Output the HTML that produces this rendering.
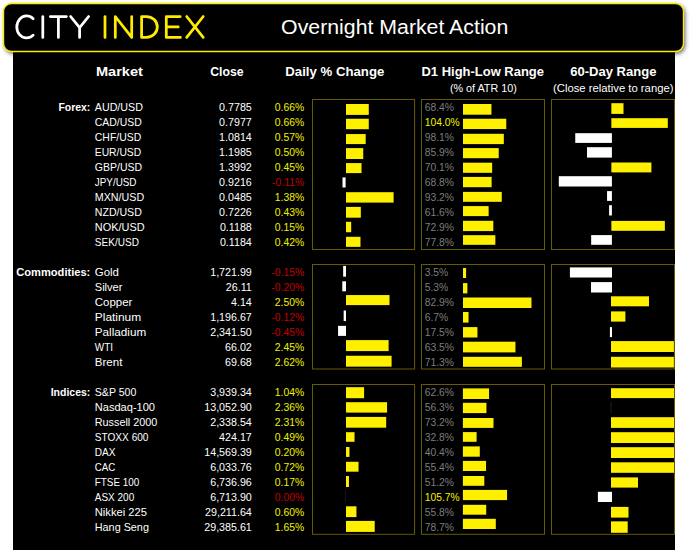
<!DOCTYPE html><html><head><meta charset="utf-8"><title>Overnight Market Action</title><style>
html,body{margin:0;padding:0;background:#fff;width:695px;height:559px;overflow:hidden;}
svg{position:absolute;left:0;top:0;display:block;}
text{font-family:"Liberation Sans",sans-serif;}
</style></head><body>
<svg width="695" height="559" viewBox="0 0 695 559">
<defs><filter id="blur" x="-5%" y="-30%" width="110%" height="170%"><feGaussianBlur stdDeviation="2.2"/></filter></defs>
<rect x="5" y="5.5" width="680" height="48" rx="8" ry="8" fill="#303040" fill-opacity="0.8" filter="url(#blur)"/>
<rect x="13" y="45" width="662" height="505" fill="#000"/>
<rect x="3.5" y="3.5" width="680" height="48" rx="8" ry="8" fill="#000" stroke="#ffeb00" stroke-width="1.4"/>
<g fill="none" stroke="#fff" stroke-width="2.75" stroke-linecap="round" stroke-linejoin="round">
<path d="M33.16 18.78 A9.8 11.0 0 1 0 33.16 35.12"/>
<path d="M42.8 16.5V37.4"/>
<path d="M50.3 16.5H66.4M58.4 16.5V37.4"/>
<path d="M70.6 16.5L79.6 27.6L88.6 16.5M79.6 27.6V37.4"/>
</g>
<g fill="none" stroke="#ffeb00" stroke-width="2.75" stroke-linecap="round" stroke-linejoin="round">
<path d="M105.0 16.5V37.4"/>
<path d="M115.3 37.4V16.5L131.7 37.4V16.5"/>
<path d="M141.6 16.5H146.5A10.8 10.45 0 0 1 146.5 37.4H141.6Z"/>
<path d="M180.2 16.5H166.3V37.4H180.4M166.3 26.95H178.2"/>
<path d="M186.7 16.5L203.2 37.4M203.2 16.5L186.7 37.4"/>
</g>
<text x="281.1" y="34.1" font-size="20.5" fill="#fff" textLength="227.2" lengthAdjust="spacingAndGlyphs">Overnight Market Action</text>
<text x="95.90" y="76.00" font-size="13.2" fill="#fff" font-weight="bold" textLength="47.0" lengthAdjust="spacingAndGlyphs">Market</text>
<text x="210.20" y="76.00" font-size="13.2" fill="#fff" font-weight="bold" textLength="33.3" lengthAdjust="spacingAndGlyphs">Close</text>
<text x="285.30" y="76.00" font-size="13.2" fill="#fff" font-weight="bold" textLength="99.0" lengthAdjust="spacingAndGlyphs">Daily % Change</text>
<text x="421.50" y="76.00" font-size="13.2" fill="#fff" font-weight="bold" textLength="122.5" lengthAdjust="spacingAndGlyphs">D1 High-Low Range</text>
<text x="570.20" y="76.00" font-size="13.2" fill="#fff" font-weight="bold" textLength="86.2" lengthAdjust="spacingAndGlyphs">60-Day Range</text>
<text x="449.90" y="91.80" font-size="10.7" fill="#fff" textLength="66.9" lengthAdjust="spacingAndGlyphs">(% of ATR 10)</text>
<text x="553.00" y="91.80" font-size="10.7" fill="#fff" textLength="120.5" lengthAdjust="spacingAndGlyphs">(Close relative to range)</text>
<text x="90.30" y="111.00" font-size="10.7" fill="#fff" text-anchor="end" font-weight="bold" textLength="31.9" lengthAdjust="spacingAndGlyphs">Forex:</text>
<text x="94.80" y="111.00" font-size="10.7" fill="#fff" textLength="48.1" lengthAdjust="spacingAndGlyphs">AUD/USD</text>
<text x="251.80" y="111.00" font-size="10.7" fill="#fff" text-anchor="end">0.7785</text>
<text x="304.20" y="111.00" font-size="10.7" fill="#f0f000" text-anchor="end" textLength="29.4" lengthAdjust="spacingAndGlyphs">0.66%</text>
<text x="424.70" y="111.00" font-size="10.7" fill="#7d7d7d" textLength="29.25" lengthAdjust="spacingAndGlyphs">68.4%</text>
<text x="94.80" y="125.99" font-size="10.7" fill="#fff" textLength="47" lengthAdjust="spacingAndGlyphs">CAD/USD</text>
<text x="251.80" y="125.99" font-size="10.7" fill="#fff" text-anchor="end">0.7977</text>
<text x="304.20" y="125.99" font-size="10.7" fill="#f0f000" text-anchor="end" textLength="29.4" lengthAdjust="spacingAndGlyphs">0.66%</text>
<text x="424.70" y="125.99" font-size="10.7" fill="#f0f000" textLength="34.98" lengthAdjust="spacingAndGlyphs">104.0%</text>
<text x="94.80" y="140.97" font-size="10.7" fill="#fff" textLength="46.4" lengthAdjust="spacingAndGlyphs">CHF/USD</text>
<text x="251.80" y="140.97" font-size="10.7" fill="#fff" text-anchor="end">1.0814</text>
<text x="304.20" y="140.97" font-size="10.7" fill="#f0f000" text-anchor="end" textLength="29.4" lengthAdjust="spacingAndGlyphs">0.57%</text>
<text x="424.70" y="140.97" font-size="10.7" fill="#7d7d7d" textLength="29.25" lengthAdjust="spacingAndGlyphs">98.1%</text>
<text x="94.80" y="155.96" font-size="10.7" fill="#fff" textLength="46.4" lengthAdjust="spacingAndGlyphs">EUR/USD</text>
<text x="251.80" y="155.96" font-size="10.7" fill="#fff" text-anchor="end">1.1985</text>
<text x="304.20" y="155.96" font-size="10.7" fill="#f0f000" text-anchor="end" textLength="29.4" lengthAdjust="spacingAndGlyphs">0.50%</text>
<text x="424.70" y="155.96" font-size="10.7" fill="#7d7d7d" textLength="29.25" lengthAdjust="spacingAndGlyphs">85.9%</text>
<text x="94.80" y="170.94" font-size="10.7" fill="#fff" textLength="47.3" lengthAdjust="spacingAndGlyphs">GBP/USD</text>
<text x="251.80" y="170.94" font-size="10.7" fill="#fff" text-anchor="end">1.3992</text>
<text x="304.20" y="170.94" font-size="10.7" fill="#f0f000" text-anchor="end" textLength="29.4" lengthAdjust="spacingAndGlyphs">0.45%</text>
<text x="424.70" y="170.94" font-size="10.7" fill="#7d7d7d" textLength="29.25" lengthAdjust="spacingAndGlyphs">70.1%</text>
<text x="94.80" y="185.93" font-size="10.7" fill="#fff" textLength="41.7" lengthAdjust="spacingAndGlyphs">JPY/USD</text>
<text x="251.80" y="185.93" font-size="10.7" fill="#fff" text-anchor="end">0.9216</text>
<text x="304.20" y="185.93" font-size="10.7" fill="#c00000" text-anchor="end" textLength="32.09" lengthAdjust="spacingAndGlyphs">-0.11%</text>
<text x="424.70" y="185.93" font-size="10.7" fill="#7d7d7d" textLength="29.25" lengthAdjust="spacingAndGlyphs">68.8%</text>
<text x="94.80" y="200.92" font-size="10.7" fill="#fff" textLength="49.4" lengthAdjust="spacingAndGlyphs">MXN/USD</text>
<text x="251.80" y="200.92" font-size="10.7" fill="#fff" text-anchor="end">0.0485</text>
<text x="304.20" y="200.92" font-size="10.7" fill="#f0f000" text-anchor="end" textLength="29.4" lengthAdjust="spacingAndGlyphs">1.38%</text>
<text x="424.70" y="200.92" font-size="10.7" fill="#7d7d7d" textLength="29.25" lengthAdjust="spacingAndGlyphs">93.2%</text>
<text x="94.80" y="215.90" font-size="10.7" fill="#fff" textLength="47" lengthAdjust="spacingAndGlyphs">NZD/USD</text>
<text x="251.80" y="215.90" font-size="10.7" fill="#fff" text-anchor="end">0.7226</text>
<text x="304.20" y="215.90" font-size="10.7" fill="#f0f000" text-anchor="end" textLength="29.4" lengthAdjust="spacingAndGlyphs">0.43%</text>
<text x="424.70" y="215.90" font-size="10.7" fill="#7d7d7d" textLength="29.25" lengthAdjust="spacingAndGlyphs">61.6%</text>
<text x="94.80" y="230.89" font-size="10.7" fill="#fff" textLength="49.8" lengthAdjust="spacingAndGlyphs">NOK/USD</text>
<text x="251.80" y="230.89" font-size="10.7" fill="#fff" text-anchor="end">0.1188</text>
<text x="304.20" y="230.89" font-size="10.7" fill="#f0f000" text-anchor="end" textLength="29.4" lengthAdjust="spacingAndGlyphs">0.15%</text>
<text x="424.70" y="230.89" font-size="10.7" fill="#7d7d7d" textLength="29.25" lengthAdjust="spacingAndGlyphs">72.9%</text>
<text x="94.80" y="245.87" font-size="10.7" fill="#fff" textLength="44.1" lengthAdjust="spacingAndGlyphs">SEK/USD</text>
<text x="251.80" y="245.87" font-size="10.7" fill="#fff" text-anchor="end">0.1184</text>
<text x="304.20" y="245.87" font-size="10.7" fill="#f0f000" text-anchor="end" textLength="29.4" lengthAdjust="spacingAndGlyphs">0.42%</text>
<text x="424.70" y="245.87" font-size="10.7" fill="#7d7d7d" textLength="29.25" lengthAdjust="spacingAndGlyphs">77.8%</text>
<text x="90.30" y="275.85" font-size="10.7" fill="#fff" text-anchor="end" font-weight="bold" textLength="74.0" lengthAdjust="spacingAndGlyphs">Commodities:</text>
<text x="94.80" y="275.85" font-size="10.7" fill="#fff" textLength="24.2" lengthAdjust="spacingAndGlyphs">Gold</text>
<text x="251.80" y="275.85" font-size="10.7" fill="#fff" text-anchor="end">1,721.99</text>
<text x="304.20" y="275.85" font-size="10.7" fill="#c00000" text-anchor="end" textLength="32.86" lengthAdjust="spacingAndGlyphs">-0.15%</text>
<text x="424.70" y="275.85" font-size="10.7" fill="#7d7d7d" textLength="23.52" lengthAdjust="spacingAndGlyphs">3.5%</text>
<text x="94.80" y="290.83" font-size="10.7" fill="#fff" textLength="27.6" lengthAdjust="spacingAndGlyphs">Silver</text>
<text x="251.80" y="290.83" font-size="10.7" fill="#fff" text-anchor="end">26.11</text>
<text x="304.20" y="290.83" font-size="10.7" fill="#c00000" text-anchor="end" textLength="32.86" lengthAdjust="spacingAndGlyphs">-0.20%</text>
<text x="424.70" y="290.83" font-size="10.7" fill="#7d7d7d" textLength="23.52" lengthAdjust="spacingAndGlyphs">5.3%</text>
<text x="94.80" y="305.82" font-size="10.7" fill="#fff" textLength="37.6" lengthAdjust="spacingAndGlyphs">Copper</text>
<text x="251.80" y="305.82" font-size="10.7" fill="#fff" text-anchor="end">4.14</text>
<text x="304.20" y="305.82" font-size="10.7" fill="#f0f000" text-anchor="end" textLength="29.4" lengthAdjust="spacingAndGlyphs">2.50%</text>
<text x="424.70" y="305.82" font-size="10.7" fill="#7d7d7d" textLength="29.25" lengthAdjust="spacingAndGlyphs">82.9%</text>
<text x="94.80" y="320.80" font-size="10.7" fill="#fff" textLength="46.4" lengthAdjust="spacingAndGlyphs">Platinum</text>
<text x="251.80" y="320.80" font-size="10.7" fill="#fff" text-anchor="end">1,196.67</text>
<text x="304.20" y="320.80" font-size="10.7" fill="#c00000" text-anchor="end" textLength="32.86" lengthAdjust="spacingAndGlyphs">-0.12%</text>
<text x="424.70" y="320.80" font-size="10.7" fill="#7d7d7d" textLength="23.52" lengthAdjust="spacingAndGlyphs">6.7%</text>
<text x="94.80" y="335.79" font-size="10.7" fill="#fff" textLength="51.4" lengthAdjust="spacingAndGlyphs">Palladium</text>
<text x="251.80" y="335.79" font-size="10.7" fill="#fff" text-anchor="end">2,341.50</text>
<text x="304.20" y="335.79" font-size="10.7" fill="#c00000" text-anchor="end" textLength="32.86" lengthAdjust="spacingAndGlyphs">-0.45%</text>
<text x="424.70" y="335.79" font-size="10.7" fill="#7d7d7d" textLength="29.25" lengthAdjust="spacingAndGlyphs">17.5%</text>
<text x="94.80" y="350.78" font-size="10.7" fill="#fff" textLength="18.2" lengthAdjust="spacingAndGlyphs">WTI</text>
<text x="251.80" y="350.78" font-size="10.7" fill="#fff" text-anchor="end">66.02</text>
<text x="304.20" y="350.78" font-size="10.7" fill="#f0f000" text-anchor="end" textLength="29.4" lengthAdjust="spacingAndGlyphs">2.45%</text>
<text x="424.70" y="350.78" font-size="10.7" fill="#7d7d7d" textLength="29.25" lengthAdjust="spacingAndGlyphs">63.5%</text>
<text x="94.80" y="365.76" font-size="10.7" fill="#fff" textLength="27.6" lengthAdjust="spacingAndGlyphs">Brent</text>
<text x="251.80" y="365.76" font-size="10.7" fill="#fff" text-anchor="end">69.68</text>
<text x="304.20" y="365.76" font-size="10.7" fill="#f0f000" text-anchor="end" textLength="29.4" lengthAdjust="spacingAndGlyphs">2.62%</text>
<text x="424.70" y="365.76" font-size="10.7" fill="#7d7d7d" textLength="29.25" lengthAdjust="spacingAndGlyphs">71.3%</text>
<text x="90.30" y="395.73" font-size="10.7" fill="#fff" text-anchor="end" font-weight="bold" textLength="39.6" lengthAdjust="spacingAndGlyphs">Indices:</text>
<text x="94.80" y="395.73" font-size="10.7" fill="#fff" textLength="41.6" lengthAdjust="spacingAndGlyphs">S&amp;P 500</text>
<text x="251.80" y="395.73" font-size="10.7" fill="#fff" text-anchor="end">3,939.34</text>
<text x="304.20" y="395.73" font-size="10.7" fill="#f0f000" text-anchor="end" textLength="29.4" lengthAdjust="spacingAndGlyphs">1.04%</text>
<text x="424.70" y="395.73" font-size="10.7" fill="#7d7d7d" textLength="29.25" lengthAdjust="spacingAndGlyphs">62.6%</text>
<text x="94.80" y="410.72" font-size="10.7" fill="#fff" textLength="60.2" lengthAdjust="spacingAndGlyphs">Nasdaq-100</text>
<text x="251.80" y="410.72" font-size="10.7" fill="#fff" text-anchor="end">13,052.90</text>
<text x="304.20" y="410.72" font-size="10.7" fill="#f0f000" text-anchor="end" textLength="29.4" lengthAdjust="spacingAndGlyphs">2.36%</text>
<text x="424.70" y="410.72" font-size="10.7" fill="#7d7d7d" textLength="29.25" lengthAdjust="spacingAndGlyphs">56.3%</text>
<text x="94.80" y="425.71" font-size="10.7" fill="#fff" textLength="62.5" lengthAdjust="spacingAndGlyphs">Russell 2000</text>
<text x="251.80" y="425.71" font-size="10.7" fill="#fff" text-anchor="end">2,338.54</text>
<text x="304.20" y="425.71" font-size="10.7" fill="#f0f000" text-anchor="end" textLength="29.4" lengthAdjust="spacingAndGlyphs">2.31%</text>
<text x="424.70" y="425.71" font-size="10.7" fill="#7d7d7d" textLength="29.25" lengthAdjust="spacingAndGlyphs">73.2%</text>
<text x="94.80" y="440.69" font-size="10.7" fill="#fff" textLength="53.7" lengthAdjust="spacingAndGlyphs">STOXX 600</text>
<text x="251.80" y="440.69" font-size="10.7" fill="#fff" text-anchor="end">424.17</text>
<text x="304.20" y="440.69" font-size="10.7" fill="#f0f000" text-anchor="end" textLength="29.4" lengthAdjust="spacingAndGlyphs">0.49%</text>
<text x="424.70" y="440.69" font-size="10.7" fill="#7d7d7d" textLength="29.25" lengthAdjust="spacingAndGlyphs">32.8%</text>
<text x="94.80" y="455.68" font-size="10.7" fill="#fff" textLength="20.7" lengthAdjust="spacingAndGlyphs">DAX</text>
<text x="251.80" y="455.68" font-size="10.7" fill="#fff" text-anchor="end">14,569.39</text>
<text x="304.20" y="455.68" font-size="10.7" fill="#f0f000" text-anchor="end" textLength="29.4" lengthAdjust="spacingAndGlyphs">0.20%</text>
<text x="424.70" y="455.68" font-size="10.7" fill="#7d7d7d" textLength="29.25" lengthAdjust="spacingAndGlyphs">40.4%</text>
<text x="94.80" y="470.66" font-size="10.7" fill="#fff" textLength="20.5" lengthAdjust="spacingAndGlyphs">CAC</text>
<text x="251.80" y="470.66" font-size="10.7" fill="#fff" text-anchor="end">6,033.76</text>
<text x="304.20" y="470.66" font-size="10.7" fill="#f0f000" text-anchor="end" textLength="29.4" lengthAdjust="spacingAndGlyphs">0.72%</text>
<text x="424.70" y="470.66" font-size="10.7" fill="#7d7d7d" textLength="29.25" lengthAdjust="spacingAndGlyphs">55.4%</text>
<text x="94.80" y="485.65" font-size="10.7" fill="#fff" textLength="44.5" lengthAdjust="spacingAndGlyphs">FTSE 100</text>
<text x="251.80" y="485.65" font-size="10.7" fill="#fff" text-anchor="end">6,736.96</text>
<text x="304.20" y="485.65" font-size="10.7" fill="#f0f000" text-anchor="end" textLength="29.4" lengthAdjust="spacingAndGlyphs">0.17%</text>
<text x="424.70" y="485.65" font-size="10.7" fill="#7d7d7d" textLength="29.25" lengthAdjust="spacingAndGlyphs">51.2%</text>
<text x="94.80" y="500.64" font-size="10.7" fill="#fff" textLength="39.4" lengthAdjust="spacingAndGlyphs">ASX 200</text>
<text x="251.80" y="500.64" font-size="10.7" fill="#fff" text-anchor="end">6,713.90</text>
<text x="304.20" y="500.64" font-size="10.7" fill="#c00000" text-anchor="end" textLength="29.4" lengthAdjust="spacingAndGlyphs">0.00%</text>
<text x="424.70" y="500.64" font-size="10.7" fill="#f0f000" textLength="34.98" lengthAdjust="spacingAndGlyphs">105.7%</text>
<text x="94.80" y="515.62" font-size="10.7" fill="#fff" textLength="52.2" lengthAdjust="spacingAndGlyphs">Nikkei 225</text>
<text x="251.80" y="515.62" font-size="10.7" fill="#fff" text-anchor="end">29,211.64</text>
<text x="304.20" y="515.62" font-size="10.7" fill="#f0f000" text-anchor="end" textLength="29.4" lengthAdjust="spacingAndGlyphs">0.60%</text>
<text x="424.70" y="515.62" font-size="10.7" fill="#7d7d7d" textLength="29.25" lengthAdjust="spacingAndGlyphs">55.8%</text>
<text x="94.80" y="530.61" font-size="10.7" fill="#fff" textLength="54.1" lengthAdjust="spacingAndGlyphs">Hang Seng</text>
<text x="251.80" y="530.61" font-size="10.7" fill="#fff" text-anchor="end">29,385.61</text>
<text x="304.20" y="530.61" font-size="10.7" fill="#f0f000" text-anchor="end" textLength="29.4" lengthAdjust="spacingAndGlyphs">1.65%</text>
<text x="424.70" y="530.61" font-size="10.7" fill="#7d7d7d" textLength="29.25" lengthAdjust="spacingAndGlyphs">78.7%</text>
<rect x="312.5" y="99.5" width="102.10" height="150.00" fill="none" stroke="#665b00" stroke-width="1"/>
<rect x="421.5" y="99.5" width="123.00" height="150.00" fill="none" stroke="#665b00" stroke-width="1"/>
<rect x="551.5" y="99.5" width="123.00" height="150.00" fill="none" stroke="#665b00" stroke-width="1"/>
<rect x="312.5" y="264.5" width="102.10" height="104.50" fill="none" stroke="#665b00" stroke-width="1"/>
<rect x="421.5" y="264.5" width="123.00" height="104.50" fill="none" stroke="#665b00" stroke-width="1"/>
<rect x="551.5" y="264.5" width="123.00" height="104.50" fill="none" stroke="#665b00" stroke-width="1"/>
<rect x="312.5" y="384.5" width="102.10" height="149.80" fill="none" stroke="#665b00" stroke-width="1"/>
<rect x="421.5" y="384.5" width="123.00" height="149.80" fill="none" stroke="#665b00" stroke-width="1"/>
<rect x="551.5" y="384.5" width="123.00" height="149.80" fill="none" stroke="#665b00" stroke-width="1"/>
<rect x="346.00" y="104.00" width="22.77" height="10.900000000000006" fill="#fff000"/>
<rect x="346.00" y="118.75" width="22.77" height="10.449999999999989" fill="#fff000"/>
<rect x="346.00" y="134.06" width="19.67" height="10.02000000000001" fill="#fff000"/>
<rect x="346.00" y="148.10" width="17.25" height="10.900000000000006" fill="#fff000"/>
<rect x="346.00" y="163.10" width="15.52" height="10.0" fill="#fff000"/>
<rect x="342.50" y="177.40" width="3.10" height="10.099999999999994" fill="#ffffff"/>
<rect x="346.00" y="192.20" width="47.61" height="10.400000000000006" fill="#fff000"/>
<rect x="346.00" y="206.90" width="14.83" height="10.799999999999983" fill="#fff000"/>
<rect x="346.00" y="221.80" width="5.18" height="10.449999999999989" fill="#fff000"/>
<rect x="346.00" y="236.80" width="14.49" height="10.049999999999983" fill="#fff000"/>
<rect x="463.00" y="104.00" width="28.45" height="10.700000000000003" fill="#fff000"/>
<rect x="463.00" y="118.75" width="43.26" height="10.300000000000011" fill="#fff000"/>
<rect x="463.00" y="133.80" width="40.81" height="10.299999999999983" fill="#fff000"/>
<rect x="463.00" y="148.10" width="35.73" height="10.099999999999994" fill="#fff000"/>
<rect x="463.00" y="162.70" width="29.16" height="10.100000000000023" fill="#fff000"/>
<rect x="463.00" y="176.90" width="28.62" height="10.299999999999983" fill="#fff000"/>
<rect x="463.00" y="191.90" width="38.77" height="9.900000000000006" fill="#fff000"/>
<rect x="463.00" y="206.10" width="25.63" height="10.0" fill="#fff000"/>
<rect x="463.00" y="220.80" width="30.33" height="10.299999999999983" fill="#fff000"/>
<rect x="463.00" y="235.20" width="32.36" height="9.600000000000023" fill="#fff000"/>
<rect x="611.35" y="103.20" width="12.15" height="10.700000000000003" fill="#fff000"/>
<rect x="611.35" y="118.20" width="56.45" height="9.700000000000003" fill="#fff000"/>
<rect x="575.25" y="133.20" width="36.65" height="9.700000000000017" fill="#ffffff"/>
<rect x="587.00" y="147.20" width="24.90" height="10.400000000000006" fill="#ffffff"/>
<rect x="611.35" y="162.50" width="40.05" height="9.900000000000006" fill="#fff000"/>
<rect x="558.80" y="176.20" width="53.10" height="10.300000000000011" fill="#ffffff"/>
<rect x="607.05" y="191.10" width="4.85" height="9.800000000000011" fill="#ffffff"/>
<rect x="609.10" y="205.20" width="2.80" height="10.300000000000011" fill="#ffffff"/>
<rect x="611.35" y="220.90" width="53.50" height="9.900000000000006" fill="#fff000"/>
<rect x="591.15" y="235.10" width="20.75" height="9.700000000000017" fill="#ffffff"/>
<rect x="343.15" y="265.90" width="2.85" height="10.75" fill="#ffffff"/>
<rect x="342.30" y="281.30" width="3.70" height="10.0" fill="#ffffff"/>
<rect x="346.00" y="295.06" width="43.50" height="10.04000000000002" fill="#fff000"/>
<rect x="343.66" y="310.50" width="2.34" height="10.600000000000023" fill="#ffffff"/>
<rect x="338.05" y="325.85" width="7.95" height="10.049999999999955" fill="#ffffff"/>
<rect x="346.00" y="340.10" width="42.63" height="11.0" fill="#fff000"/>
<rect x="346.00" y="355.75" width="45.59" height="10.899999999999977" fill="#fff000"/>
<rect x="463.00" y="268.05" width="3.10" height="9.949999999999989" fill="#fff000"/>
<rect x="463.00" y="283.10" width="4.38" height="10.299999999999955" fill="#fff000"/>
<rect x="463.00" y="297.50" width="68.48" height="10.5" fill="#fff000"/>
<rect x="463.00" y="312.00" width="5.53" height="10.600000000000023" fill="#fff000"/>
<rect x="463.00" y="327.10" width="14.45" height="10.399999999999977" fill="#fff000"/>
<rect x="463.00" y="341.70" width="52.45" height="10.699999999999989" fill="#fff000"/>
<rect x="463.00" y="356.80" width="58.89" height="10.0" fill="#fff000"/>
<rect x="569.90" y="267.40" width="42.10" height="10.100000000000023" fill="#ffffff"/>
<rect x="591.00" y="282.10" width="21.00" height="10.399999999999977" fill="#ffffff"/>
<rect x="611.00" y="296.30" width="38.00" height="10.0" fill="#fff000"/>
<rect x="611.00" y="311.40" width="14.40" height="10.200000000000045" fill="#fff000"/>
<rect x="609.90" y="327.10" width="2.10" height="10.0" fill="#ffffff"/>
<rect x="611.00" y="341.10" width="62.90" height="10.899999999999977" fill="#fff000"/>
<rect x="611.00" y="356.80" width="62.90" height="10.699999999999989" fill="#fff000"/>
<rect x="346.00" y="387.20" width="18.10" height="11.0" fill="#fff000"/>
<rect x="346.00" y="402.20" width="41.06" height="10.400000000000034" fill="#fff000"/>
<rect x="346.00" y="416.90" width="40.19" height="10.800000000000011" fill="#fff000"/>
<rect x="346.00" y="432.20" width="8.53" height="9.600000000000023" fill="#fff000"/>
<rect x="346.00" y="447.00" width="3.48" height="9.899999999999977" fill="#fff000"/>
<rect x="346.00" y="461.80" width="12.53" height="9.899999999999977" fill="#fff000"/>
<rect x="346.00" y="476.00" width="2.96" height="11.0" fill="#fff000"/>
<rect x="344.80" y="490.30" width="1.10" height="12.199999999999989" fill="#161616"/>
<rect x="346.00" y="506.30" width="10.44" height="10.800000000000011" fill="#fff000"/>
<rect x="346.00" y="520.90" width="28.71" height="11.0" fill="#fff000"/>
<rect x="462.90" y="388.40" width="26.17" height="10.600000000000023" fill="#fff000"/>
<rect x="462.90" y="402.80" width="23.53" height="10.300000000000011" fill="#fff000"/>
<rect x="462.90" y="418.00" width="30.60" height="9.899999999999977" fill="#fff000"/>
<rect x="462.90" y="432.10" width="13.71" height="9.699999999999989" fill="#fff000"/>
<rect x="462.90" y="446.40" width="16.89" height="10.300000000000011" fill="#fff000"/>
<rect x="462.90" y="460.90" width="23.16" height="10.100000000000023" fill="#fff000"/>
<rect x="462.90" y="476.00" width="21.40" height="9.800000000000011" fill="#fff000"/>
<rect x="462.90" y="489.90" width="44.18" height="10.200000000000045" fill="#fff000"/>
<rect x="462.90" y="504.80" width="23.32" height="9.900000000000034" fill="#fff000"/>
<rect x="462.90" y="518.80" width="32.90" height="10.200000000000045" fill="#fff000"/>
<rect x="611.00" y="388.20" width="63.00" height="9.900000000000034" fill="#fff000"/>
<rect x="610.20" y="401.50" width="1.40" height="11.800000000000011" fill="#161616"/>
<rect x="611.00" y="417.20" width="63.00" height="10.699999999999989" fill="#fff000"/>
<rect x="611.00" y="432.20" width="63.00" height="10.800000000000011" fill="#fff000"/>
<rect x="611.00" y="447.20" width="63.00" height="10.800000000000011" fill="#fff000"/>
<rect x="611.00" y="462.30" width="63.00" height="10.5" fill="#fff000"/>
<rect x="611.00" y="477.40" width="27.00" height="10.200000000000045" fill="#fff000"/>
<rect x="597.90" y="491.80" width="14.10" height="10.199999999999989" fill="#ffffff"/>
<rect x="611.00" y="506.90" width="17.50" height="10.700000000000045" fill="#fff000"/>
<rect x="611.00" y="521.35" width="16.70" height="11.449999999999932" fill="#fff000"/>
</svg></body></html>
